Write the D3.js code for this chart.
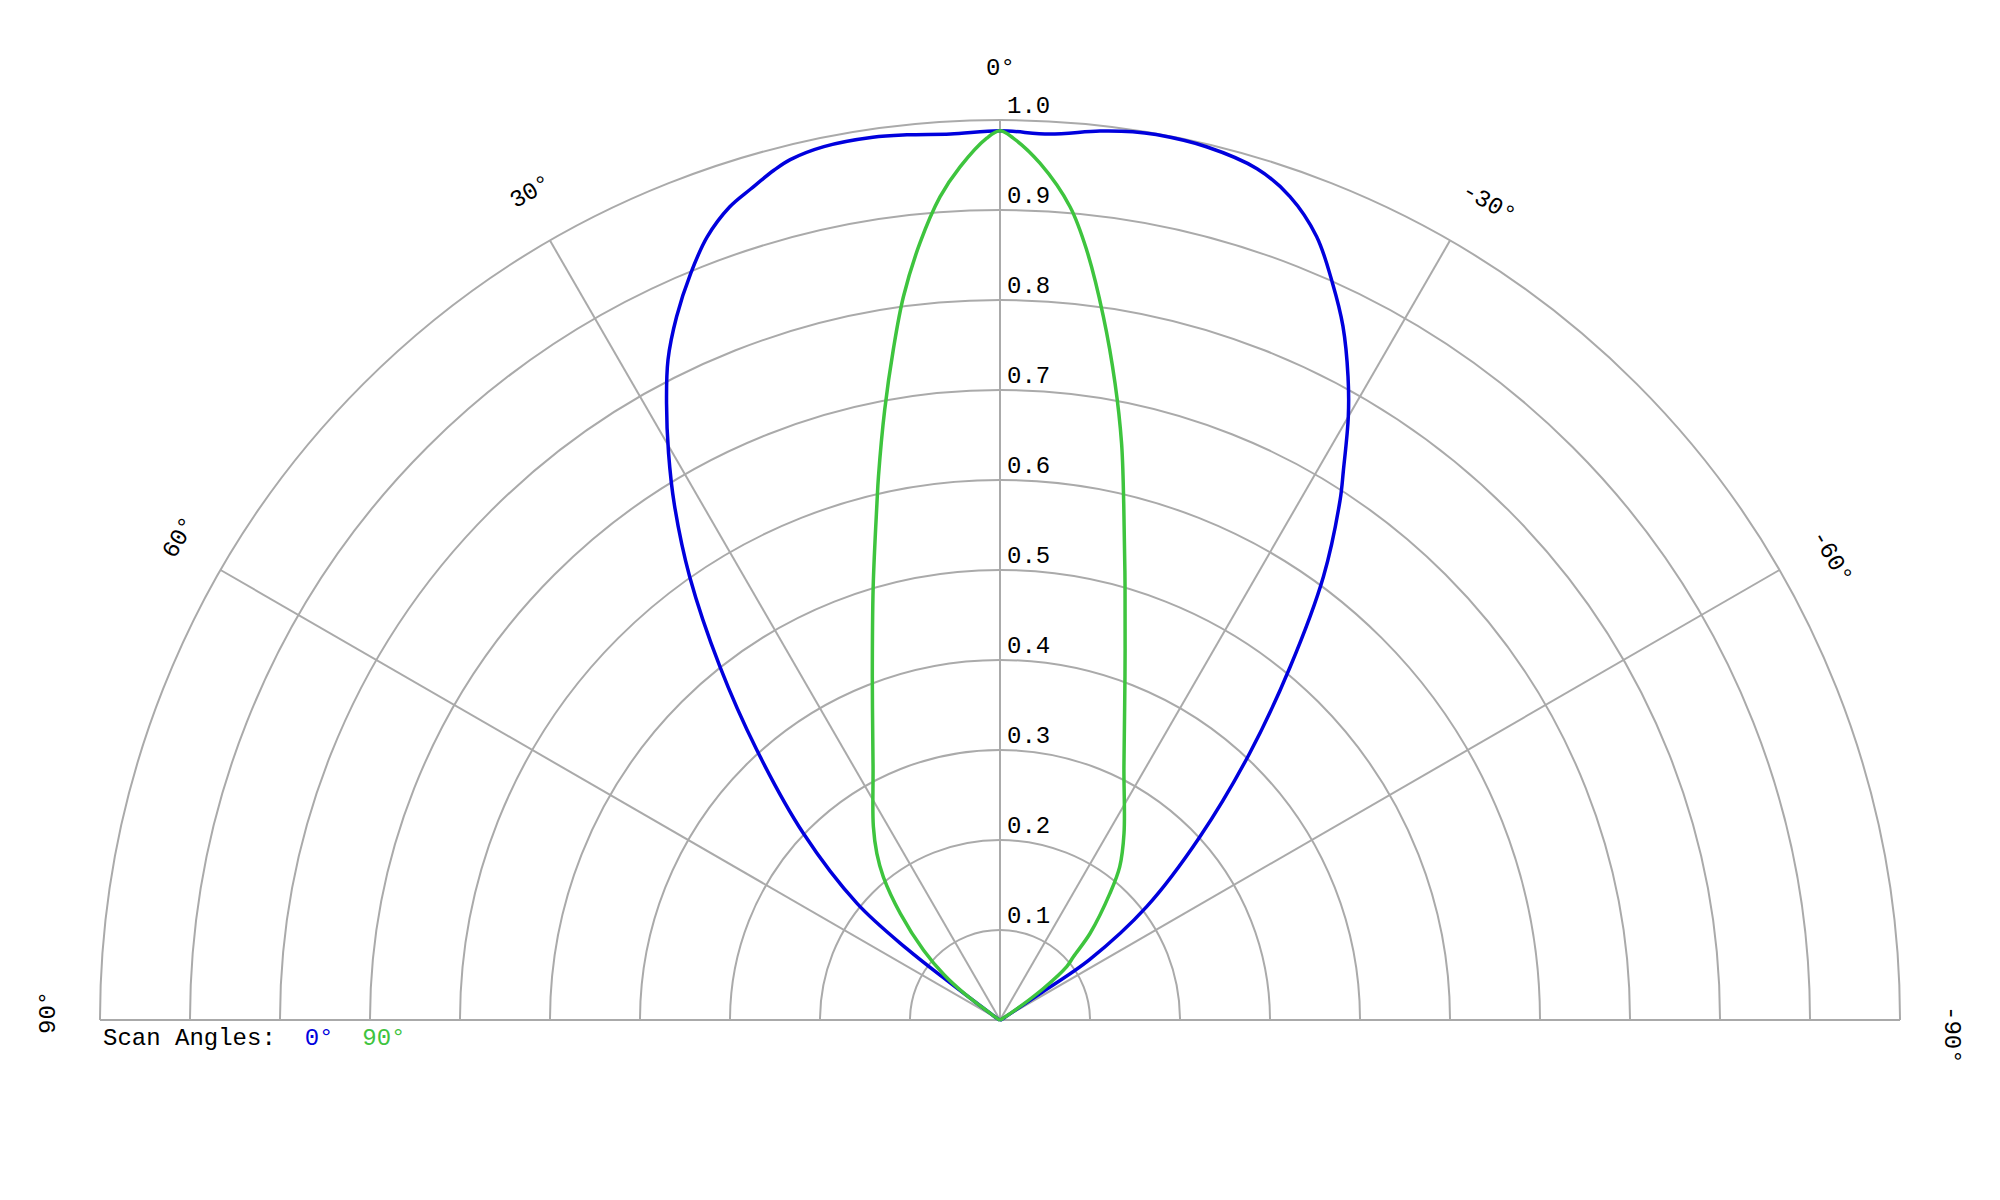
<!DOCTYPE html>
<html>
<head>
<meta charset="utf-8">
<script src="https://cdn.jsdelivr.net/npm/d3@7"></script>
<style>
  body { margin: 0; background: white; }
  text { font-family: "Courier New", "Liberation Mono", monospace; font-size: 24px; }
</style>
</head>
<body>
<div id="chart"></div>
<script>

// scan angle 0 deg, angles in degrees (positive = left of broadside)
let blueAngles = [-90, -70, -60, -57.5, -56.6, -56.0, -52.3, -47.5, -43.1, -39.4, -36.1, -33.2, -32.0, -30.0,
    -28.4, -26.3, -24.3, -22.0, -19.4, -16.8, -13.3, -10.0, -8.5, -6.4, -3.2, 0, 3.2, 6.0, 8.2, 11.4, 13.7, 14.9,
    16.7, 18.4, 20.5, 22.5, 24.7, 26.7, 28.4, 30.3, 32.3, 35.0, 38.4, 42.0, 46.5, 50.8, 52.6, 53.3, 54.0,
    56.0, 62, 90]
let blueValues = [0, 0.002, 0.008, 0.02, 0.053, 0.120, 0.206, 0.301, 0.406, 0.508, 0.610, 0.690, 0.720, 0.774,
    0.813, 0.860, 0.898, 0.939, 0.970, 0.988, 0.997, 0.999, 0.998, 0.994, 0.986, 0.988, 0.986, 0.989, 0.991, 0.990, 0.984, 0.977,
    0.964, 0.952, 0.929, 0.898, 0.860, 0.821, 0.779, 0.730, 0.677, 0.601, 0.501, 0.404, 0.301, 0.205, 0.130, 0.074, 0.035,
    0.012, 0.003, 0]

// scan angle 90 deg
let greenAngles = [-90, -70, -60, -57.5, -56, -54, -51.3, -49.2, -46.1, -41.0, -38.0, -33.6, -26.1, -20.0, -16.1,
    -13.5, -11.9, -10.24, -8.36, -6.42, -4.92, -2.67, -0.86, 0, 0.86, 2.68, 4.17, 5.88, 7.6, 9.05, 10.7, 12.6,
    13.4, 16.3, 20.4, 26.6, 33.2, 36.5, 39.2, 43.1, 47.6, 51.0, 53.3, 54.5, 57, 70, 90]
let greenValues = [0, 0.001, 0.004, 0.012, 0.03, 0.06, 0.095, 0.108, 0.139, 0.186, 0.216, 0.249, 0.313, 0.406, 0.501,
    0.589, 0.655, 0.719, 0.790, 0.861, 0.907, 0.953, 0.980, 0.988, 0.980, 0.949, 0.917, 0.868, 0.811, 0.754, 0.690, 0.619,
    0.590, 0.502, 0.407, 0.315, 0.257, 0.230, 0.205, 0.162, 0.115, 0.08, 0.05, 0.025, 0.008, 0.001, 0]

let radialTicks = [0.1, 0.2, 0.3, 0.4, 0.5, 0.6, 0.7, 0.8, 0.9, 1.0]
let angleTicks = [-90, -60, -30, 0, 30, 60, 90]
let seriesNames = ["0°", "90°"]

let width = 2000
let height = 1200
let cx = 1000
let cy = 1020
let radius = 900
let gridColor = "#aaaaaa"
let blueColor = "#0000dd"
let greenColor = "#3ec43e"

let svg = d3.select("#chart").append("svg")
    .attr("width", width)
    .attr("height", height)

let g = svg.append("g")
    .attr("transform", "translate(" + cx + "," + cy + ")")

let r = d3.scaleLinear().domain([0, 1]).range([0, radius])
// angle for d3.lineRadial: 0 = up, clockwise positive, so +90 (left) is -pi/2
let a = d3.scaleLinear().domain([-90, 90]).range([Math.PI / 2, -Math.PI / 2])

// rings
radialTicks.forEach(function(v){
    let p = d3.path()
    p.moveTo(-r(v), 0)
    p.arc(0, 0, r(v), Math.PI, 2 * Math.PI)
    g.append("path")
        .attr("d", p.toString())
        .attr("fill", "none")
        .attr("stroke", gridColor)
        .attr("stroke-width", 2)
})

// spokes
angleTicks.forEach(function(d){
    g.append("line")
        .attr("x1", 0)
        .attr("y1", 0)
        .attr("x2", r(1) * Math.sin(a(d)))
        .attr("y2", -r(1) * Math.cos(a(d)))
        .attr("stroke", gridColor)
        .attr("stroke-width", 2)
})

// radial tick labels
g.selectAll(".rtick")
    .data(radialTicks)
    .enter().append("text")
    .attr("class", "rtick")
    .attr("x", 7)
    .attr("y", d => -r(d) - 7)
    .attr("fill", "black")
    .text(d => d3.format(".1f")(d))

// angle labels
g.selectAll(".atick")
    .data(angleTicks)
    .enter().append("text")
    .attr("class", "atick")
    .attr("transform", d => "rotate(" + (-d) + ") translate(0," + (-945) + ")")
    .attr("x", -14)
    .attr("y", 0)
    .attr("fill", "black")
    .text(d => d + "°")

let line = d3.lineRadial()
    .angle(d => a(d[0]))
    .radius(d => r(d[1]))
    .curve(d3.curveCatmullRom.alpha(0.5))

g.append("path")
    .attr("d", line(d3.zip(blueAngles, blueValues)))
    .attr("fill", "none")
    .attr("stroke", blueColor)
    .attr("stroke-width", 3.5)
    .attr("stroke-linejoin", "round")

g.append("path")
    .attr("d", line(d3.zip(greenAngles, greenValues)))
    .attr("fill", "none")
    .attr("stroke", greenColor)
    .attr("stroke-width", 3.5)
    .attr("stroke-linejoin", "round")

// legend
let legend = svg.append("text")
    .attr("x", 103)
    .attr("y", 1045)
    .style("white-space", "pre")
    .attr("fill", "black")

legend.append("tspan").text("Scan Angles:  ")
legend.append("tspan").attr("fill", blueColor).text(seriesNames[0] + "  ")
legend.append("tspan").attr("fill", greenColor).text(seriesNames[1])

</script>
</body>
</html>
